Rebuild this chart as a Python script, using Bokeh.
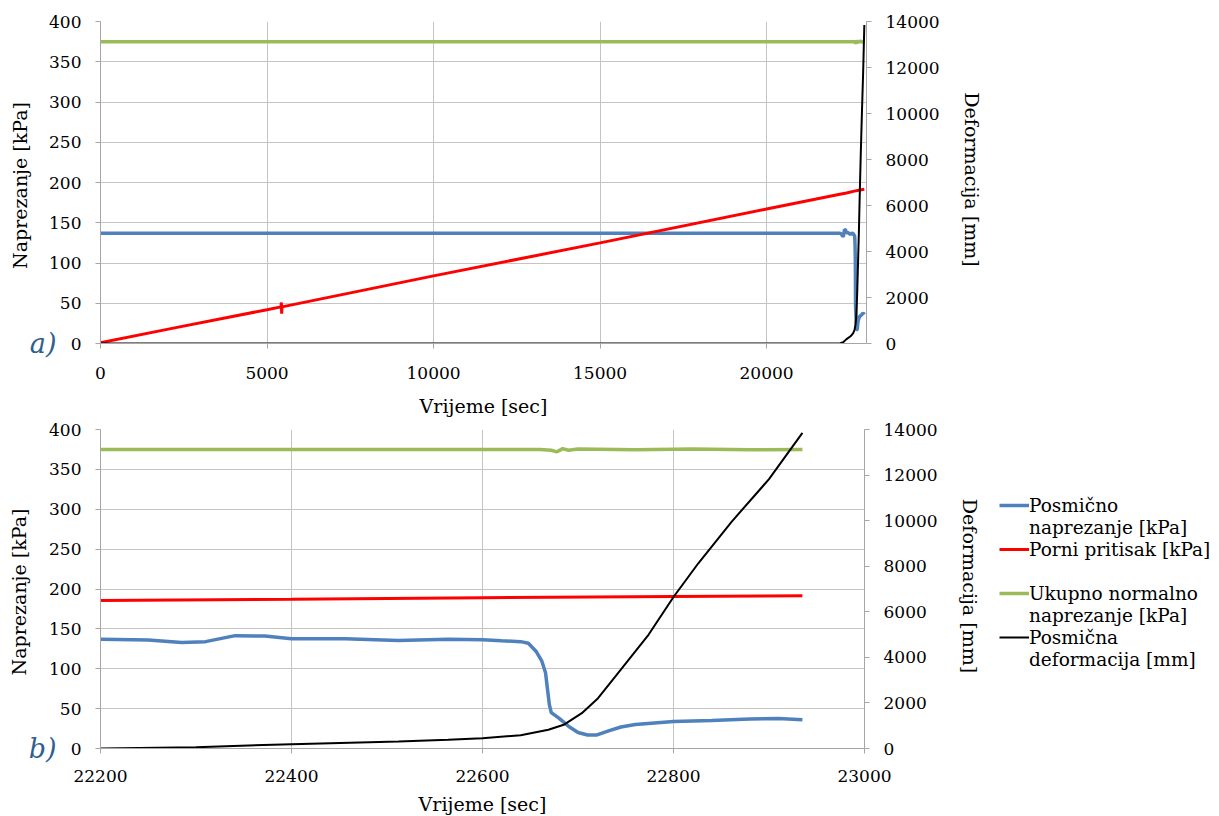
from bokeh.plotting import figure
from bokeh.models import Range1d, LinearAxis, FixedTicker, Legend, LegendItem
from bokeh.layouts import column, row
from bokeh.embed import file_html
from bokeh.resources import INLINE

# ---------------- data ----------------
t_shear = [0, 5000, 10000, 15000, 20000, 22200, 22250, 22285, 22310, 22341, 22372,
           22400, 22456, 22512, 22564, 22600, 22620, 22640, 22648, 22656, 22662,
           22666, 22668, 22670, 22672, 22680, 22690, 22700, 22710, 22720, 22732,
           22745, 22760, 22780, 22800, 22840, 22880, 22910, 22935]
shear = [137, 137, 137, 137, 137, 137, 136, 133, 134, 141.5, 141,
         137.5, 137.5, 135.5, 137, 136.5, 135, 134, 132, 122, 110,
         95, 75, 55, 45, 38, 28, 20, 17, 17, 22,
         27, 30, 32, 34, 35, 37, 37.5, 36]

t_pore = [0, 2300, 5000, 5420, 5430, 5440, 5450, 10000, 15000, 20000,
          22200, 22400, 22600, 22800, 22935]
pore = [1, 20, 42, 45.5, 51, 37, 45.5, 84, 125, 167,
        185.5, 187, 189, 190.6, 191.5]

t_normal = [0, 10000, 22200, 22660, 22672, 22678, 22684, 22690, 22700, 22760,
            22820, 22880, 22935]
normal = [375, 375, 375, 375, 374, 372, 376, 374, 375.5, 374.5,
          375.5, 374.5, 375]

t_def = [0, 22200, 22300, 22400, 22512, 22564, 22600, 22640, 22669, 22685,
         22704, 22721, 22739, 22774, 22800, 22826, 22861, 22900, 22935]
defo = [0, 0, 57, 190, 307, 380, 452, 580, 820, 1040,
        1550, 2210, 3150, 5000, 6650, 8130, 9960, 11820, 13850]

left_ticks = [0, 50, 100, 150, 200, 250, 300, 350, 400]
right_ticks = [0, 2000, 4000, 6000, 8000, 10000, 12000, 14000]
x_ticks_a = [0, 5000, 10000, 15000, 20000]
x_ticks_b = [22200, 22400, 22600, 22800, 23000]

# legend rows: (text, series index or None for a continuation / blank row)
legend_rows = [("Posmično", 0), ("naprezanje [kPa]", None),
               ("Porni pritisak [kPa]", 1), (" ", None),
               ("Ukupno normalno", 2), ("naprezanje [kPa]", None),
               ("Posmična", 3), ("deformacija [mm]", None)]
colors = ["#4f81bd", "#ff0000", "#9bbb59", "#000000"]
widths = [3.5, 3, 3.5, 2]
series = [(t_shear, shear), (t_pore, pore), (t_normal, normal), (t_def, defo)]

FONT = "DejaVu Serif"
GRID = "#c4c4c4"
AXIS = "#a6a6a6"
TAG_COLOR = "#2f5f8f"


def style_axis(ax, ticks):
    ax.ticker = FixedTicker(ticks=ticks)
    ax.axis_line_color = AXIS
    ax.major_tick_line_color = AXIS
    ax.major_tick_in = 0
    ax.major_tick_out = 5
    ax.minor_tick_line_color = None
    ax.major_label_text_font = FONT
    ax.major_label_text_font_size = "17px"
    ax.major_label_text_color = "#000000"
    ax.axis_label_text_font = FONT
    ax.axis_label_text_font_size = "19px"
    ax.axis_label_text_font_style = "normal"
    ax.axis_label_text_color = "#000000"


def make_panel(xr, xticks, frame_w, frame_h, top, bottom, right, tag, xl_s1, xl_s2):
    p = figure(frame_width=frame_w, frame_height=frame_h,
               x_range=Range1d(*xr), y_range=Range1d(0, 400),
               output_backend="svg", toolbar_location=None,
               min_border_left=100, min_border_top=top,
               min_border_bottom=bottom, min_border_right=right)
    p.extra_y_ranges = {"def": Range1d(0, 14000)}
    p.outline_line_color = None
    p.background_fill_color = "white"
    p.border_fill_color = "white"

    style_axis(p.xaxis[0], xticks)
    p.xaxis[0].axis_label = "Vrijeme [sec]"
    p.xaxis[0].major_label_standoff = xl_s1
    p.xaxis[0].axis_label_standoff = xl_s2
    style_axis(p.yaxis[0], left_ticks)
    p.yaxis[0].major_label_standoff = 14

    # outer left axis: carries the panel tag "a)"/"b)" at y=0 and the axis title
    tax = LinearAxis(axis_label="Naprezanje  [kPa]")
    style_axis(tax, [0])
    tax.major_label_overrides = {0: tag}
    tax.axis_line_color = None
    tax.major_tick_line_color = None
    tax.major_tick_out = 0
    tax.major_label_standoff = -10
    tax.major_label_text_font_style = "italic"
    tax.major_label_text_font_size = "27px"
    tax.major_label_text_color = TAG_COLOR
    tax.axis_label_standoff = -4
    p.add_layout(tax, "left")

    rax = LinearAxis(y_range_name="def", axis_label="Deformacija  [mm]")
    style_axis(rax, right_ticks)
    rax.major_label_standoff = 14
    rax.axis_label_standoff = 18
    p.add_layout(rax, "right")

    p.xgrid.ticker = FixedTicker(ticks=xticks)
    p.ygrid.ticker = FixedTicker(ticks=left_ticks)
    for g in (p.xgrid[0], p.ygrid[0]):
        g.grid_line_color = GRID
        g.grid_line_width = 1

    for i, (tx, ty) in enumerate(series):
        kw = {"y_range_name": "def"} if i == 3 else {}
        p.line(tx, ty, line_color=colors[i], line_width=widths[i], **kw)
    return p


pa = make_panel((0, 23000), x_ticks_a, 766, 322, 21, 74, 343, "a)", 18, 13)
pb = make_panel((22200, 23000), x_ticks_b, 764, 319, 10, 66, 0, "b)", 16, 8)

# legend figure placed to the right of panel b); its ranges lie outside the data,
# so its renderers only provide the legend swatches
lf = figure(width=233, height=395, output_backend="svg", toolbar_location=None,
            x_range=Range1d(-2, -1), y_range=Range1d(-2, -1),
            min_border_left=0, min_border_right=0, min_border_top=0, min_border_bottom=0)
lf.axis.visible = False
lf.grid.visible = False
lf.outline_line_color = None
swatches = [lf.line(tx, ty, line_color=c, line_width=w)
            for (tx, ty), c, w in zip(series, colors, widths)]
blank = lf.line(t_shear, shear, line_alpha=0)
items = [LegendItem(label=text, renderers=[swatches[idx] if idx is not None else blank])
         for text, idx in legend_rows]
legend = Legend(items=items, location=(16, 75), orientation="vertical",
                label_text_font=FONT, label_text_font_size="18.5px",
                label_text_color="#000000", glyph_width=30, glyph_height=22,
                label_height=22, label_standoff=0, spacing=0, padding=0, margin=0,
                border_line_color=None, background_fill_alpha=0)
lf.add_layout(legend)

layout = column(pa, row(pb, lf, spacing=0), spacing=0)
open("out.html", "w").write(file_html(layout, INLINE))
